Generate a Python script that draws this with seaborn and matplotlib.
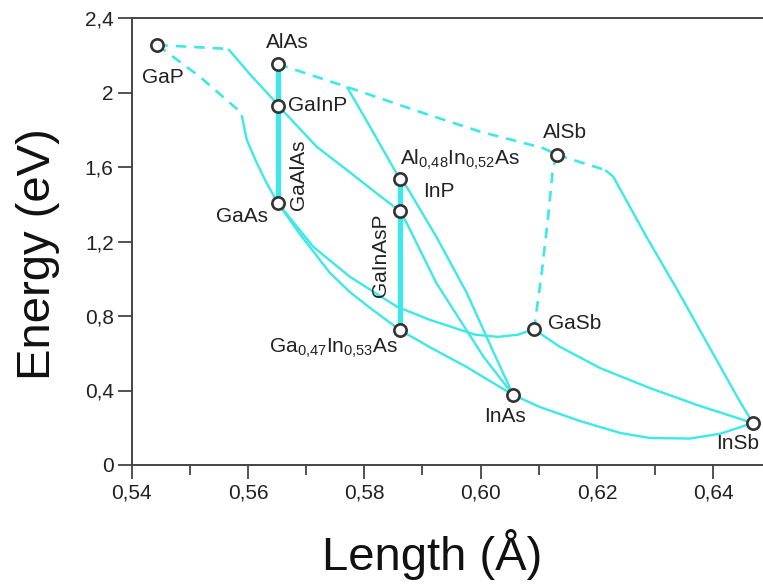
import matplotlib
matplotlib.use("Agg")
import matplotlib.pyplot as plt
import pandas as pd
import seaborn as sns

# ---------------- data (lattice length, energy in eV) ----------------
compounds = ["GaP", "AlAs", "GaInP", "GaAs", "Al0.48In0.52As", "InP",
             "Ga0.47In0.53As", "InAs", "AlSb", "GaSb", "InSb"]
comp_x = [0.5444, 0.5651, 0.5651, 0.5651, 0.5861, 0.5861, 0.5861, 0.6056, 0.6131, 0.6091, 0.6468]
comp_y = [2.255, 2.153, 1.928, 1.408, 1.536, 1.364, 0.725, 0.376, 1.666, 0.729, 0.2255]

# GaP - InP (indirect part dashed)
gap_inp_ind_x = [0.5444, 0.5566]
gap_inp_ind_y = [2.255, 2.234]
gap_inp_x = [0.5566, 0.5603, 0.5644, 0.5651, 0.5667, 0.5718, 0.5770, 0.5821, 0.5861]
gap_inp_y = [2.234, 2.099, 1.960, 1.928, 1.879, 1.709, 1.584, 1.459, 1.364]

# GaP - GaAs
gap_gaas_ind_x = [0.5444, 0.5517, 0.5583]
gap_gaas_ind_y = [2.255, 2.085, 1.906]
gap_gaas_x = [0.5589, 0.5598, 0.5615, 0.5632, 0.5651]
gap_gaas_y = [1.879, 1.745, 1.622, 1.514, 1.408]

# AlAs - GaAs (GaAlAs)
alas_gaas_x = [0.5651, 0.5651]
alas_gaas_y = [2.153, 1.408]

# AlAs - AlSb (indirect)
alas_alsb_x = [0.5651, 0.5770, 0.5901, 0.5999, 0.6107, 0.6131]
alas_alsb_y = [2.153, 2.030, 1.890, 1.790, 1.702, 1.666]

# AlAs - InAs (direct part)
alas_inas_x = [0.5770, 0.5810, 0.5849, 0.5861, 0.5873, 0.5924, 0.5976, 0.6020, 0.6056]
alas_inas_y = [2.030, 1.815, 1.600, 1.536, 1.493, 1.224, 0.925, 0.620, 0.376]

# InP - InAs
inp_inas_x = [0.5861, 0.5873, 0.5924, 0.6005, 0.6056]
inp_inas_y = [1.364, 1.298, 0.976, 0.581, 0.376]

# GaInAsP (lattice matched to InP)
gainasp_x = [0.5861, 0.5861]
gainasp_y = [1.536, 0.725]

# GaAs - InAs
gaas_inas_x = [0.5651, 0.5689, 0.5741, 0.5775, 0.5810, 0.5861, 0.5913, 0.5976, 0.6056]
gaas_inas_y = [1.408, 1.240, 1.031, 0.929, 0.843, 0.725, 0.632, 0.526, 0.376]

# GaAs - GaSb
gaas_gasb_x = [0.5651, 0.5712, 0.5775, 0.5856, 0.5913, 0.5990, 0.6030, 0.6065, 0.6091]
gaas_gasb_y = [1.408, 1.172, 1.011, 0.850, 0.779, 0.700, 0.688, 0.700, 0.729]

# AlSb - GaSb (indirect)
alsb_gasb_x = [0.6131, 0.6124, 0.6116, 0.6105, 0.6094, 0.6091]
alsb_gasb_y = [1.666, 1.584, 1.333, 1.031, 0.779, 0.729]

# AlSb - InSb
alsb_insb_ind_x = [0.6131, 0.6214]
alsb_insb_ind_y = [1.666, 1.584]
alsb_insb_x = [0.6214, 0.6228, 0.6286, 0.6340, 0.6392, 0.6444, 0.6468]
alsb_insb_y = [1.584, 1.548, 1.220, 0.930, 0.640, 0.350, 0.2255]

# GaSb - InSb
gasb_insb_x = [0.6091, 0.6102, 0.6136, 0.6205, 0.6291, 0.6377, 0.6468]
gasb_insb_y = [0.729, 0.707, 0.635, 0.521, 0.413, 0.317, 0.2255]

# InAs - InSb
inas_insb_x = [0.6056, 0.6102, 0.6171, 0.6240, 0.6291, 0.6360, 0.6412, 0.6468]
inas_insb_y = [0.376, 0.311, 0.236, 0.172, 0.145, 0.142, 0.168, 0.2255]

x_ticks = [0.54, 0.56, 0.58, 0.60, 0.62, 0.64]
x_ticklabels = ["0,54", "0,56", "0,58", "0,60", "0,62", "0,64"]
y_ticks = [0, 0.4, 0.8, 1.2, 1.6, 2.0, 2.4]
y_ticklabels = ["0", "0,4", "0,8", "1,2", "1,6", "2", "2,4"]

# ---------------- styling ----------------
sns.set_style("ticks")
plt.rcParams["font.family"] = ["Liberation Sans", "DejaVu Sans"]
plt.rcParams["mathtext.fontset"] = "custom"
plt.rcParams["mathtext.rm"] = "Liberation Sans"
plt.rcParams["mathtext.it"] = "Liberation Sans:italic"
plt.rcParams["mathtext.bf"] = "Liberation Sans:bold"

CYAN = "#3ce8e8"
DARK = "#333333"

W, H = 763, 587
fig = plt.figure(figsize=(W / 100, H / 100), dpi=100)
left_px, right_px, top_px, bot_px = 131.7, 767, 18, 465
ax = fig.add_axes([left_px / W, 1 - bot_px / H, (right_px - left_px) / W, (bot_px - top_px) / H])

x_left = 0.54
x_right = 0.54 + (right_px - left_px) / 5816.0
ax.set_xlim(x_left, x_right)
ax.set_ylim(0, 2.4)

thin = 1.7
thick = 3.8
dash = (0, (4, 3))

paths = [
    (gap_inp_ind_x, gap_inp_ind_y, dash, 1.9),
    (gap_inp_x, gap_inp_y, "-", thin),
    (gap_gaas_ind_x, gap_gaas_ind_y, dash, 1.9),
    (gap_gaas_x, gap_gaas_y, "-", thin),
    (alas_gaas_x, alas_gaas_y, "-", thick),
    (alas_alsb_x, alas_alsb_y, dash, 1.9),
    (alas_inas_x, alas_inas_y, "-", thin),
    (inp_inas_x, inp_inas_y, "-", thin),
    (gainasp_x, gainasp_y, "-", thick),
    (gaas_inas_x, gaas_inas_y, "-", thin),
    (gaas_gasb_x, gaas_gasb_y, "-", thin),
    (alsb_gasb_x, alsb_gasb_y, dash, 1.9),
    (alsb_insb_ind_x, alsb_insb_ind_y, dash, 1.9),
    (alsb_insb_x, alsb_insb_y, "-", thin),
    (gasb_insb_x, gasb_insb_y, "-", thin),
    (inas_insb_x, inas_insb_y, "-", thin),
]
for px, py, ls, lw in paths:
    df = pd.DataFrame({"x": px, "y": py})
    sns.lineplot(data=df, x="x", y="y", sort=False, estimator=None, ax=ax,
                 color=CYAN, linewidth=lw, linestyle=ls, zorder=2,
                 solid_capstyle="butt", solid_joinstyle="round")

pts = pd.DataFrame({"x": comp_x, "y": comp_y, "name": compounds})
sns.scatterplot(data=pts, x="x", y="y", ax=ax, s=78, color="white",
                edgecolor=DARK, linewidth=1.9, zorder=5, legend=False)

# ---------------- labels ----------------
lab_kw = dict(fontsize=15, color="#222222", zorder=6)
ax.text(0.54538, 2.083, "GaP", ha="center", va="center", **lab_kw)
ax.text(0.56670, 2.266, "AlAs", ha="center", va="center", **lab_kw)
ax.text(0.56689, 1.928, "GaInP", ha="left", va="center", **lab_kw)
ax.text(0.56861, 1.557, "GaAlAs", ha="center", va="center", rotation=90, **lab_kw)
ax.text(0.56344, 1.332, "GaAs", ha="right", va="center", **lab_kw)
ax.text(0.58271, 1.128, "GaInAsP", ha="center", va="center", rotation=90, **lab_kw)
ax.text(0.58613, 1.611, r"Al$_{\mathrm{0{,}48}}$In$_{\mathrm{0{,}52}}$As", ha="left", va="baseline", **lab_kw)
ax.text(0.59285, 1.471, "InP", ha="center", va="center", **lab_kw)
ax.text(0.58580, 0.601, r"Ga$_{\mathrm{0{,}47}}$In$_{\mathrm{0{,}53}}$As", ha="right", va="baseline", **lab_kw)
ax.text(0.60419, 0.263, "InAs", ha="center", va="center", **lab_kw)
ax.text(0.61451, 1.783, "AlSb", ha="center", va="center", **lab_kw)
ax.text(0.61160, 0.762, "GaSb", ha="left", va="center", **lab_kw)
ax.text(0.64425, 0.118, "InSb", ha="center", va="center", **lab_kw)

# ---------------- axes ----------------
ax.set_xticks(x_ticks)
ax.set_xticklabels(x_ticklabels)
ax.set_xticks([0.55, 0.57, 0.59, 0.61, 0.63], minor=True)
ax.set_yticks(y_ticks)
ax.set_yticklabels(y_ticklabels)
ax.tick_params(axis="both", which="major", direction="out", length=10, width=1.3,
               color="#444444", labelsize=15, labelcolor="#222222", pad=3)
ax.tick_params(axis="x", which="minor", direction="out", length=7, width=1.3, color="#444444")
for side in ["left", "bottom", "top"]:
    ax.spines[side].set_color("#444444")
    ax.spines[side].set_linewidth(1.4)
ax.spines["right"].set_visible(False)
ax.set_xlabel("")
ax.set_ylabel("")

fig.text(38 / W, 1 - 254 / H, "Energy (eV)", rotation=90, ha="center", va="center",
         fontsize=34, color="#111111")
fig.text(432 / W, 1 - 570 / H, "Length (Å)", ha="center", va="baseline",
         fontsize=34, color="#111111")

fig.savefig("out.png", dpi=100)
